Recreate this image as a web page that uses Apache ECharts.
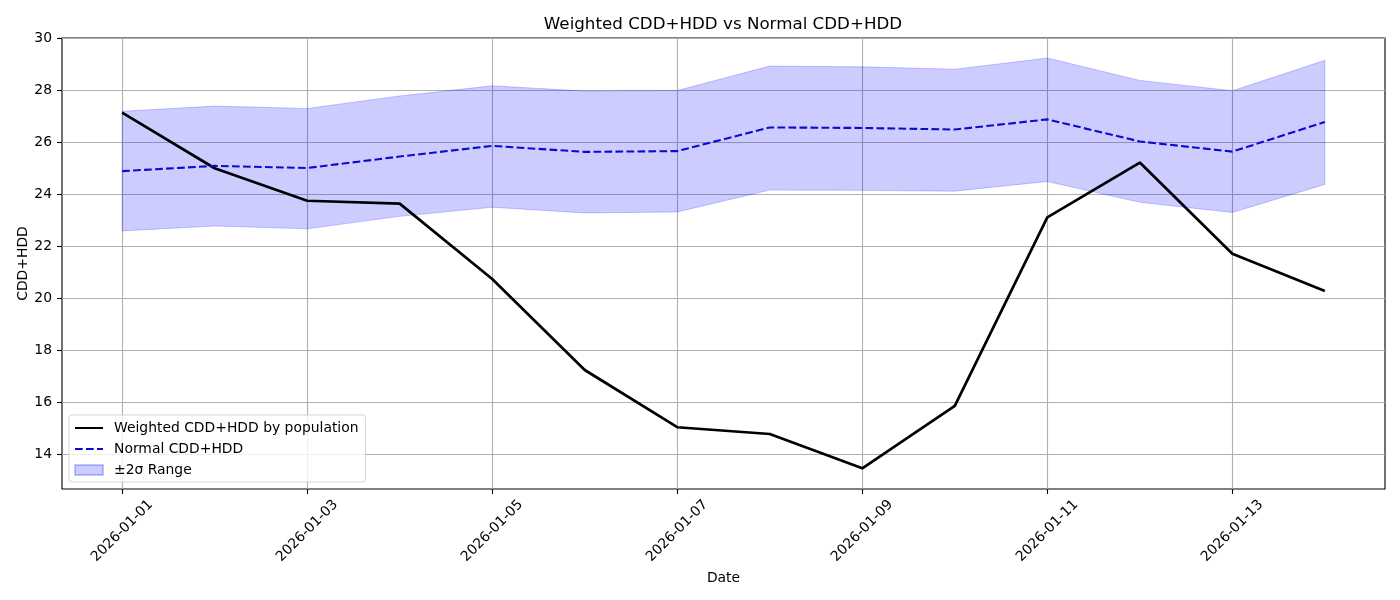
<!DOCTYPE html>
<html>
<head>
<meta charset="utf-8">
<script src="https://cdn.jsdelivr.net/npm/echarts@6/dist/echarts.min.js"></script>
<style>
html,body{margin:0;padding:0;background:#fff;}
#c{width:1400px;height:600px;}
</style>
</head>
<body>
<div id="c"></div>
<script>
const dates = ['2026-01-01','2026-01-02','2026-01-03','2026-01-04','2026-01-05','2026-01-06','2026-01-07',
               '2026-01-08','2026-01-09','2026-01-10','2026-01-11','2026-01-12','2026-01-13','2026-01-14'];
const weighted = [27.13, 24.99, 23.74, 23.63, 20.73, 17.23, 15.03, 14.77, 13.45, 15.85, 23.10, 25.21, 21.70, 20.27];
const normal   = [24.88, 25.08, 25.00, 25.44, 25.85, 25.62, 25.65, 26.56, 26.54, 26.48, 26.87, 26.02, 25.63, 26.77];
const upper    = [27.18, 27.38, 27.29, 27.77, 28.16, 27.96, 27.98, 28.92, 28.89, 28.80, 29.23, 28.37, 27.97, 29.14];
const lower    = [22.58, 22.77, 22.66, 23.14, 23.49, 23.27, 23.31, 24.15, 24.14, 24.11, 24.48, 23.68, 23.29, 24.37];
const xTickIdx = [0, 2, 4, 6, 8, 10, 12];
const yTicks   = [14, 16, 18, 20, 22, 24, 26, 28, 30];

const FONT = 'DejaVu Sans';
const chart = echarts.init(document.getElementById('c'), null, {renderer: 'canvas'});

const option = {
  animation: false,
  backgroundColor: '#ffffff',
  textStyle: {fontFamily: FONT},
  title: {
    text: 'Weighted CDD+HDD vs Normal CDD+HDD',
    left: 723, top: 16, padding: 0, textAlign: 'center',
    textStyle: {fontFamily: FONT, fontSize: 16.7, fontWeight: 'normal', color: '#000'}
  },
  grid: {
    left: 62, right: 15, top: 38, bottom: 111,
    show: true, borderColor: '#000', borderWidth: 1.1, backgroundColor: 'transparent',
    containLabel: false
  },
  legend: {
    orient: 'vertical', left: 69, top: 415,
    padding: [5, 7, 4, 5], itemGap: 5,
    itemWidth: 28, itemHeight: 10,
    backgroundColor: 'rgba(255,255,255,0.8)',
    borderColor: 'rgba(204,204,204,0.8)', borderWidth: 1, borderRadius: 3,
    textStyle: {fontFamily: FONT, fontSize: 13.9, color: '#000', lineHeight: 16, padding: [0, 0, 0, 6]},
    data: [
      {name: 'Weighted CDD+HDD by population', itemStyle: {opacity: 0}},
      {name: 'Normal CDD+HDD', itemStyle: {opacity: 0}},
      {name: '±2σ Range', icon: 'rect'}
    ]
  },
  xAxis: {
    type: 'value', min: -0.65, max: 13.65, splitNumber: 7,
    name: 'Date', nameLocation: 'middle', nameGap: 82,
    nameTextStyle: {fontFamily: FONT, fontSize: 13.9, color: '#000'},
    axisLine: {show: false, onZero: false},
    axisTick: {show: true, length: 5, lineStyle: {color: '#000', width: 1.1}, customValues: xTickIdx},
    axisLabel: {
      customValues: xTickIdx, rotate: 45, align: 'center', verticalAlign: 'middle', margin: 42,
      fontFamily: FONT, fontSize: 13.9, color: '#000',
      formatter: function (v) { return dates[Math.round(v)]; }
    },
    splitLine: {show: true, lineStyle: {color: '#b0b0b0', width: 1.1}}
  },
  yAxis: {
    type: 'value', min: 12.654, max: 30, splitNumber: 9,
    name: 'CDD+HDD', nameLocation: 'middle', nameGap: 32, nameMoveOverlap: false,
    nameTextStyle: {fontFamily: FONT, fontSize: 13.9, color: '#000'},
    axisLine: {show: false, onZero: false},
    axisTick: {show: true, length: 5, lineStyle: {color: '#000', width: 1.1}, customValues: yTicks},
    axisLabel: {customValues: yTicks, margin: 10, fontFamily: FONT, fontSize: 13.9, color: '#000'},
    splitLine: {show: true, lineStyle: {color: '#b0b0b0', width: 1.1}}
  },
  series: [
    {
      name: '±2σ Range', type: 'custom', z: 1,
      itemStyle: {color: 'rgba(0,0,255,0.2)', borderColor: 'rgba(0,0,255,0.22)', borderWidth: 1},
      encode: {x: 0, y: [1, 2]},
      data: dates.map((d, i) => [i, lower[i], upper[i]]),
      renderItem: function (params, api) {
        if (params.dataIndex !== 0) return null;
        const pts = [];
        for (let i = 0; i < dates.length; i++) pts.push(api.coord([i, upper[i]]));
        for (let i = dates.length - 1; i >= 0; i--) pts.push(api.coord([i, lower[i]]));
        return {
          type: 'polygon', shape: {points: pts},
          style: {fill: 'rgba(0,0,255,0.2)', stroke: 'rgba(0,0,255,0.2)', lineWidth: 1}
        };
      }
    },
    {
      name: 'Weighted CDD+HDD by population', type: 'line', z: 3,
      symbol: 'none', showSymbol: false,
      lineStyle: {color: '#000', width: 2.7},
      itemStyle: {color: '#000'},
      data: weighted.map((v, i) => [i, v])
    },
    {
      name: 'Normal CDD+HDD', type: 'line', z: 3,
      symbol: 'none', showSymbol: false,
      lineStyle: {color: '#0a0ad0', width: 2.1, type: [7.7, 3.3]},
      itemStyle: {color: '#0a0ad0'},
      data: normal.map((v, i) => [i, v])
    }
  ]
};
chart.setOption(option);
</script>
</body>
</html>
